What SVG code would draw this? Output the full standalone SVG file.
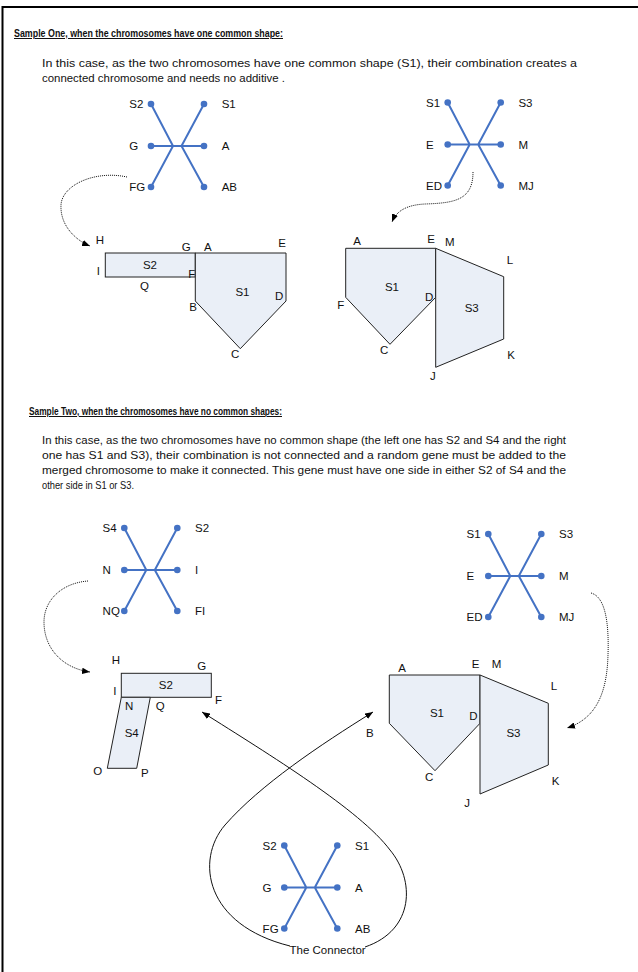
<svg xmlns="http://www.w3.org/2000/svg" width="638" height="972" viewBox="0 0 638 972">
<style>
text{font-family:"Liberation Sans",Arial,sans-serif;fill:#111}
.t{font-size:11.5px}
.h{font-size:10px;font-weight:bold;text-decoration:underline}
.p{font-size:11.5px}
.m{text-anchor:middle}
.shape{fill:#EAEFF7;stroke:#222;stroke-width:1}
.sl{fill:none;stroke:#4472C4;stroke-width:2}
.dot{fill:#4472C4}
.dotted{fill:none;stroke:#111;stroke-width:1;stroke-dasharray:1 1}
.conn{fill:none;stroke:#111;stroke-width:1}
.frame{stroke:#000;stroke-width:2;fill:none}
</style>
<defs>
<marker id="arr" viewBox="0 0 10 8" refX="10" refY="4" markerWidth="8" markerHeight="6.4" orient="auto" markerUnits="userSpaceOnUse">
<path d="M0,0 L10,4 L0,8 z" fill="#000"/>
</marker>
<g id="starlines">
<path class="sl" d="M0,0 L22,42 L0,83 M53,0 L30.5,42 L53,83 M0,42 H53"/>
<circle class="dot" cx="0" cy="0" r="3.3"/><circle class="dot" cx="53" cy="0" r="3.3"/>
<circle class="dot" cx="0" cy="42" r="3.3"/><circle class="dot" cx="53" cy="42" r="3.3"/>
<circle class="dot" cx="0" cy="83" r="3.3"/><circle class="dot" cx="53" cy="83" r="3.3"/>
</g>
</defs>
<rect width="638" height="972" fill="#fff"/>
<path class="frame" d="M2.5,972 V7 H638"/>

<g id="texts">
<text class="h" x="14" y="37" textLength="269" lengthAdjust="spacingAndGlyphs">Sample One, when the chromosomes have one common shape:</text>
<text class="p" x="42" y="67" textLength="535" lengthAdjust="spacingAndGlyphs">In this case, as the two chromosomes have one common shape (S1), their combination creates a</text>
<text class="p" x="42" y="82" textLength="243" lengthAdjust="spacingAndGlyphs">connected chromosome and needs no additive .</text>
<text class="h" x="29" y="415" textLength="253" lengthAdjust="spacingAndGlyphs">Sample Two, when the chromosomes have no common shapes:</text>
<text class="p" x="42" y="444" textLength="524" lengthAdjust="spacingAndGlyphs">In this case, as the two chromosomes have no common shape (the left one has S2 and S4 and the right</text>
<text class="p" x="42" y="459" textLength="524" lengthAdjust="spacingAndGlyphs">one has S1 and S3), their combination is not connected and a random gene must be added to the</text>
<text class="p" x="42" y="474" textLength="524" lengthAdjust="spacingAndGlyphs">merged chromosome to make it connected. This gene must have one side in either S2 of S4 and the</text>
<text class="p" x="42" y="489" textLength="92" lengthAdjust="spacingAndGlyphs">other side in S1 or S3.</text>
</g>

<g id="gene1" transform="translate(151,104)">
<use href="#starlines"/>
<text class="t" x="-21.7" y="4">S2</text><text class="t" x="70.7" y="4">S1</text>
<text class="t" x="-21.7" y="46">G</text><text class="t" x="70.7" y="46">A</text>
<text class="t" x="-21.7" y="87">FG</text><text class="t" x="70.7" y="87">AB</text>
</g>
<g id="gene2" transform="translate(447.7,102.5)">
<use href="#starlines"/>
<text class="t" x="-21.7" y="4">S1</text><text class="t" x="70.7" y="4">S3</text>
<text class="t" x="-21.7" y="46">E</text><text class="t" x="70.7" y="46">M</text>
<text class="t" x="-21.7" y="87">ED</text><text class="t" x="70.7" y="87">MJ</text>
</g>
<g id="gene3" transform="translate(124.3,528)">
<use href="#starlines"/>
<text class="t" x="-21.7" y="4">S4</text><text class="t" x="70.7" y="4">S2</text>
<text class="t" x="-21.7" y="46">N</text><text class="t" x="70.7" y="46">I</text>
<text class="t" x="-21.7" y="87">NQ</text><text class="t" x="70.7" y="87">FI</text>
</g>
<g id="gene4" transform="translate(488.3,534)">
<use href="#starlines"/>
<text class="t" x="-21.7" y="4">S1</text><text class="t" x="70.7" y="4">S3</text>
<text class="t" x="-21.7" y="46">E</text><text class="t" x="70.7" y="46">M</text>
<text class="t" x="-21.7" y="87">ED</text><text class="t" x="70.7" y="87">MJ</text>
</g>
<g id="gene5" transform="translate(284.3,845.5)">
<use href="#starlines"/>
<text class="t" x="-21.7" y="4">S2</text><text class="t" x="70.7" y="4">S1</text>
<text class="t" x="-21.7" y="46">G</text><text class="t" x="70.7" y="46">A</text>
<text class="t" x="-21.7" y="87">FG</text><text class="t" x="70.7" y="87">AB</text>
<text class="t m" x="43.3" y="108">The Connector</text>
</g>

<g id="shapeA-S2">
<rect class="shape" x="105.3" y="253" width="90" height="24"/>
<text class="t m" x="150" y="269">S2</text>
<text class="t" x="95.7" y="243.5">H</text>
<text class="t" x="181.7" y="250.7">G</text>
<text class="t" x="96.7" y="275.3">I</text>
<text class="t m" x="144.5" y="290">Q</text>
<text class="t" x="188.3" y="278.3">F</text>
</g>
<g id="shapeA-S1">
<polygon class="shape" points="195.3,253 286,253 286,301 240.3,348.7 195.3,301"/>
<text class="t m" x="242.5" y="296">S1</text>
<text class="t" x="204" y="250.7">A</text>
<text class="t" x="278.3" y="246.7">E</text>
<text class="t" x="275" y="300">D</text>
<text class="t" x="189.3" y="311">B</text>
<text class="t" x="231" y="358.3">C</text>
</g>

<g id="shapeB-S1">
<polygon class="shape" points="345.7,248.3 435.7,248.3 435.7,297.3 390,344.3 345.7,297.3"/>
<text class="t m" x="392" y="290.7">S1</text>
<text class="t" x="353.3" y="245">A</text>
<text class="t" x="427.3" y="242.7">E</text>
<text class="t" x="425" y="301">D</text>
<text class="t" x="337.3" y="309.3">F</text>
<text class="t" x="380" y="354">C</text>
</g>
<g id="shapeB-S3">
<polygon class="shape" points="435.7,248.3 503.7,276.7 503.7,339 435.7,367.3"/>
<text class="t m" x="471.7" y="311.7">S3</text>
<text class="t" x="445" y="245.7">M</text>
<text class="t" x="506.7" y="264">L</text>
<text class="t" x="507.3" y="359.3">K</text>
<text class="t" x="430" y="380">J</text>
</g>

<g id="shapeC-S2">
<rect class="shape" x="121.3" y="673.3" width="90" height="24"/>
<text class="t m" x="165.8" y="688.7">S2</text>
<text class="t" x="111.7" y="664.3">H</text>
<text class="t" x="197.3" y="670">G</text>
<text class="t" x="113.3" y="695.3">I</text>
<text class="t" x="215" y="704.3">F</text>
</g>
<g id="shapeC-S4">
<polygon class="shape" points="121.3,697.3 150.3,697.3 136.7,768.3 107.3,768.3"/>
<text class="t m" x="131.7" y="736.7">S4</text>
<text class="t" x="125" y="710">N</text>
<text class="t" x="155.7" y="710">Q</text>
<text class="t" x="93.3" y="775">O</text>
<text class="t" x="141" y="776.7">P</text>
</g>

<g id="shapeD-S1">
<polygon class="shape" points="389.3,675 480,675 480,723.3 435,770.7 389.3,723.3"/>
<text class="t m" x="437" y="717.3">S1</text>
<text class="t" x="398.3" y="671.7">A</text>
<text class="t" x="471.7" y="668.3">E</text>
<text class="t" x="469.3" y="720">D</text>
<text class="t" x="366" y="736.7">B</text>
<text class="t" x="425" y="780.7">C</text>
</g>
<g id="shapeD-S3">
<polygon class="shape" points="480,675 548.3,703.3 548.3,765 480,794"/>
<text class="t m" x="513.5" y="737.3">S3</text>
<text class="t" x="491.7" y="668.3">M</text>
<text class="t" x="550.7" y="690">L</text>
<text class="t" x="551.7" y="785">K</text>
<text class="t" x="464.3" y="806.7">J</text>
</g>

<g id="connectors">
<path class="dotted" marker-end="url(#arr)" d="M127,177 C95,170 62,185 61,205 C60,225 75,240 90,246"/>
<path class="dotted" marker-end="url(#arr)" d="M473,172 C473,200 455,203 425,204 C405,205 396,212 392,222"/>
<path class="dotted" marker-end="url(#arr)" d="M88,581 C62,583 44,600 44,622 C44,648 62,668 90,672"/>
<path class="dotted" marker-end="url(#arr)" d="M591,593 C606,597 609,625 608,655 C607,690 598,718 567,728"/>
<path class="conn" marker-end="url(#arr)" d="M290,946 C205,925 195,860 225,825 C260,785 320,745 373,712"/>
<path class="conn" marker-end="url(#arr)" d="M365,947 C415,930 415,880 390,850 C360,810 270,755 202,712"/>
</g>
</svg>
